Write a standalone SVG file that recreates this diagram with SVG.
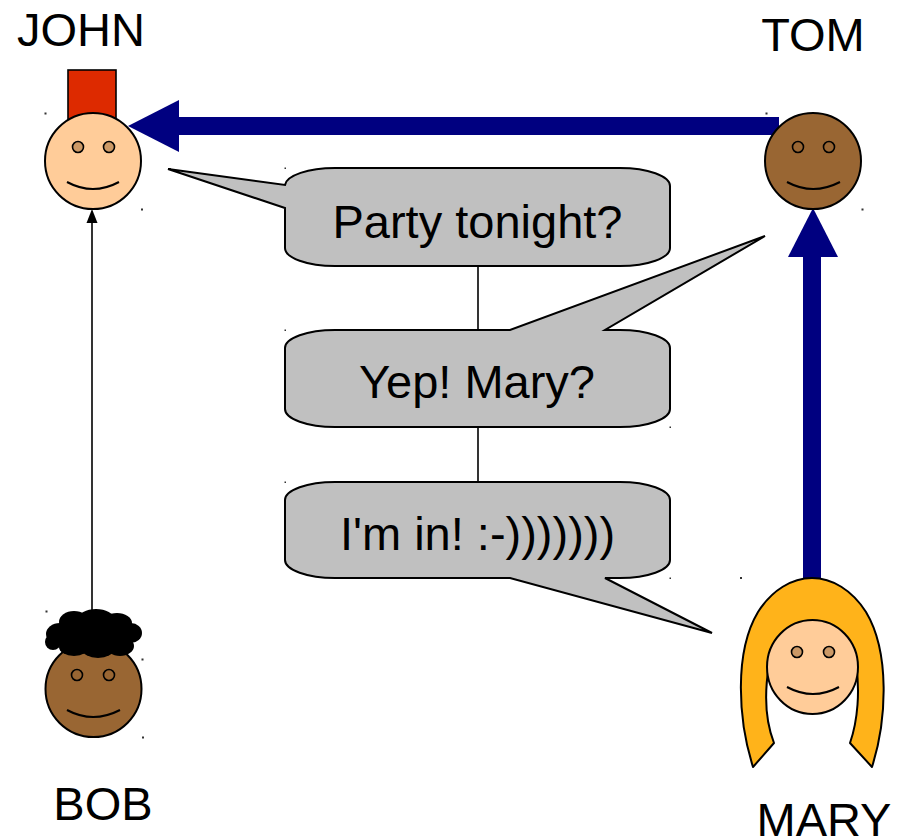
<svg xmlns="http://www.w3.org/2000/svg" width="904" height="839" viewBox="0 0 904 839">
  <style>
    .label { font-family: "Liberation Sans", Arial, sans-serif; font-size: 47px; fill: #000; text-anchor: middle; }
    .ln { stroke: #000; stroke-width: 1.6; }
    .skin { fill: #ffcc99; stroke: #000; stroke-width: 2; }
    .dark { fill: #996633; stroke: #000; stroke-width: 2; }
    .eye { fill: #cc9966; stroke: #000; stroke-width: 1.6; }
    .eye-dark { fill: #996633; stroke: #000; stroke-width: 1.6; }
    .smile { fill: none; stroke: #000; stroke-width: 2; }
    .bubble { fill: #c0c0c0; stroke: #000; stroke-width: 2; stroke-linejoin: miter; }
    .navy { fill: #000080; }
    .dot { fill: #333; }
  </style>

  <!-- connectors -->
  <g id="connectors">
    <!-- Tom to John: thick navy arrow -->
    <rect class="navy" x="176" y="117" width="603" height="18"/>
    <polygon class="navy" points="128,126 179,100 179,152"/>
    <!-- Mary to Tom: thick navy arrow -->
    <rect class="navy" x="803" y="255" width="18" height="324"/>
    <polygon class="navy" points="813,208 788,257 838,257"/>
    <!-- Bob to John: thin arrow -->
    <line x1="92" y1="611" x2="92" y2="222" stroke="#000" stroke-width="1.6"/>
    <polygon points="92,209 86.5,223 97.5,223" fill="#000"/>
    <!-- links between the speech bubbles -->
    <line class="ln" x1="478" y1="266" x2="478" y2="330"/>
    <line class="ln" x1="478" y1="427" x2="478" y2="482"/>
  </g>

  <!-- John -->
  <g id="john">
    <text class="label" x="81" y="46">JOHN</text>
    <rect x="68" y="70" width="48" height="50" fill="#dd2a00" stroke="#000" stroke-width="1.6"/>
    <circle class="skin" cx="93" cy="161" r="48"/>
    <circle class="eye" cx="78" cy="147" r="5.5"/>
    <circle class="eye" cx="109" cy="147" r="5.5"/>
    <path class="smile" d="M67,182 Q93,196 119,182"/>
  </g>

  <!-- Tom -->
  <g id="tom">
    <text class="label" x="813" y="51">TOM</text>
    <circle class="dark" cx="813" cy="161" r="48"/>
    <circle class="eye-dark" cx="798" cy="147" r="5.5"/>
    <circle class="eye-dark" cx="829" cy="147" r="5.5"/>
    <path class="smile" d="M787,182 Q813,196 840,182"/>
  </g>

  <!-- Bob -->
  <g id="bob">
    <circle class="dark" cx="93.5" cy="689" r="48"/>
    <g fill="#000">
      <ellipse cx="93" cy="636" rx="40" ry="16"/>
      <ellipse cx="60" cy="634" rx="14" ry="11"/>
      <ellipse cx="74" cy="622" rx="15" ry="11"/>
      <ellipse cx="96" cy="619" rx="18" ry="10"/>
      <ellipse cx="117" cy="623" rx="15" ry="10"/>
      <ellipse cx="131" cy="633" rx="11" ry="10"/>
      <ellipse cx="120" cy="646" rx="14" ry="10"/>
      <ellipse cx="98" cy="649" rx="16" ry="9"/>
      <ellipse cx="74" cy="647" rx="15" ry="9"/>
      <ellipse cx="53" cy="642" rx="8" ry="8"/>
    </g>
    <circle class="eye-dark" cx="77" cy="675" r="5.5"/>
    <circle class="eye-dark" cx="109" cy="675" r="5.5"/>
    <path class="smile" d="M67,710 Q93,724 120,710"/>
    <text class="label" x="103" y="820">BOB</text>
  </g>

  <!-- Mary -->
  <g id="mary">
    <path d="M753,767 C738,720 734,652 758,612 C772,590 792,578 812,578 C832,578 852,590 866,612 C890,652 887,720 872,767 L850,743 C858,720 860,690 856,665 C850,645 775,645 769,665 C764,695 765,720 774,743 Z" fill="#ffb31a" stroke="#000" stroke-width="2" stroke-linejoin="round"/>
    <ellipse class="skin" cx="812.5" cy="667" rx="45.5" ry="47"/>
    <circle class="eye" cx="797" cy="652" r="5.5"/>
    <circle class="eye" cx="829" cy="652" r="5.5"/>
    <path class="smile" d="M787,687 Q813,701 839,687"/>
    <text class="label" x="824" y="836">MARY</text>
  </g>

  <!-- speech bubbles -->
  <g id="bubble-party">
    <path class="bubble" d="M335,168 L620,168 A50,18 0 0 1 670,186 L670,248 A50,18 0 0 1 620,266 L335,266 A50,18 0 0 1 285,248 L285,208 L168,169 L285,185 A50,18 0 0 1 335,168 Z"/>
    <text class="label" x="477.5" y="238">Party tonight?</text>
  </g>
  <g id="bubble-yep">
    <path class="bubble" d="M335,330 L510,330 L765,236 L605,330 L620,330 A50,18 0 0 1 670,348 L670,409 A50,18 0 0 1 620,427 L335,427 A50,18 0 0 1 285,409 L285,348 A50,18 0 0 1 335,330 Z"/>
    <text class="label" x="477" y="398">Yep! Mary?</text>
  </g>
  <g id="bubble-in">
    <path class="bubble" d="M335,482 L620,482 A50,18 0 0 1 670,500 L670,560 A50,18 0 0 1 620,578 L605,578 L712,633 L510,578 L335,578 A50,18 0 0 1 285,560 L285,500 A50,18 0 0 1 335,482 Z"/>
    <text class="label" x="477.5" y="550">I'm in! :-)))))))</text>
  </g>

  <!-- bounding-box corner specks -->
  <g id="handles" class="dot">
    <rect x="44.5" y="112.5" width="2" height="2"/>
    <rect x="141" y="208.5" width="2" height="2"/>
    <rect x="765.5" y="112.5" width="2" height="2"/>
    <rect x="861.5" y="208.5" width="2" height="2"/>
    <rect x="45.5" y="610.5" width="2" height="2"/>
    <rect x="141.5" y="658.5" width="2" height="2"/>
    <rect x="142" y="736.5" width="2" height="2"/>
    <rect x="740" y="577" width="2" height="2"/>
    <rect x="284.5" y="167.5" width="1.5" height="1.5"/>
    <rect x="284.5" y="329.5" width="1.5" height="1.5"/>
    <rect x="669.5" y="426.5" width="1.5" height="1.5"/>
    <rect x="284.5" y="481.5" width="1.5" height="1.5"/>
    <rect x="669.5" y="577.5" width="1.5" height="1.5"/>
  </g>
</svg>
